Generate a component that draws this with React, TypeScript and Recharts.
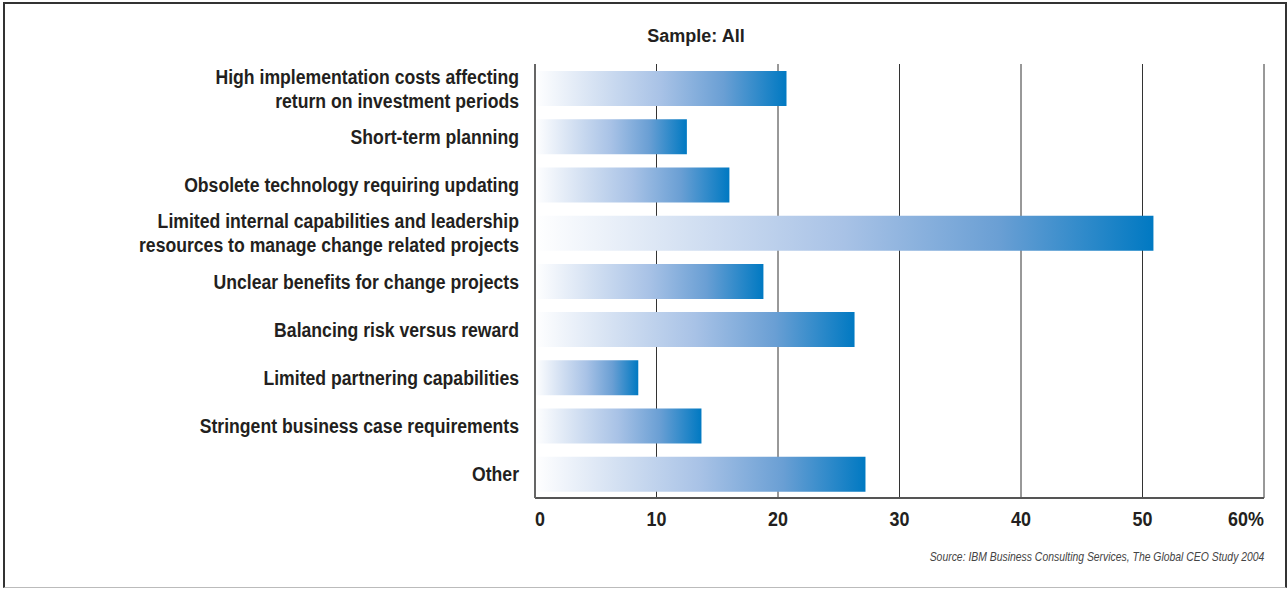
import React from "react";
import { Bar, BarChart, CartesianGrid, XAxis, YAxis } from "recharts";

// Obstacles to change, share of CEOs (%)
const categories = [
  "High implementation costs affecting|return on investment periods",
  "Short-term planning",
  "Obsolete technology requiring updating",
  "Limited internal capabilities and leadership|resources to manage change related projects",
  "Unclear benefits for change projects",
  "Balancing risk versus reward",
  "Limited partnering capabilities",
  "Stringent business case requirements",
  "Other",
];
const shares = [20.7, 12.5, 16.0, 50.9, 18.8, 26.3, 8.5, 13.7, 27.2];
const xTicks = [0, 10, 20, 30, 40, 50, 60];

const data = categories.map((name, i) => ({ name, value: shares[i] }));

// Arial-metric font squeezed horizontally to get a condensed look
const FONT = "'Liberation Sans', Arial, sans-serif";
const INK = "#231f20";

function CategoryTick(props: any) {
  const { x, y, payload } = props;
  const lines = String(payload.value).split("|");
  const lh = 24;
  const y0 = y - ((lines.length - 1) * lh) / 2 + 7.5;
  return (
    <text
      transform={`translate(${x} ${y0}) scale(0.84 1)`}
      textAnchor="end"
      fontFamily={FONT}
      fontWeight="bold"
      fontSize={21}
      fill={INK}
    >
      {lines.map((l, i) => (
        <tspan key={i} x={0} y={i * lh}>
          {l}
        </tspan>
      ))}
    </text>
  );
}

function ValueTick(props: any) {
  const { x, y, payload, index } = props;
  const last = index === xTicks.length - 1;
  const anchor = index === 0 ? "start" : last ? "end" : "middle";
  return (
    <text
      transform={`translate(${x} ${y + 20}) scale(0.92 1)`}
      textAnchor={anchor}
      fontFamily={FONT}
      fontWeight="bold"
      fontSize={19.5}
      fill={INK}
    >
      {last ? `${payload.value}%` : payload.value}
    </text>
  );
}

export default function App() {
  return (
    <div
      style={{
        position: "absolute",
        left: 0,
        top: 0,
        width: 1287,
        height: 590,
        background: "#fff",
        fontFamily: FONT,
      }}
    >
      <div
        style={{
          position: "absolute",
          left: 3,
          top: 2,
          width: 1280,
          height: 583,
          borderLeft: "2px solid #333",
          borderTop: "2px solid #333",
          borderRight: "2px solid #333",
          borderBottom: "1px solid #bbb",
        }}
      />
      <div
        style={{
          position: "absolute",
          left: 596,
          width: 200,
          top: 26,
          textAlign: "center",
          fontWeight: "bold",
          fontSize: 18,
          lineHeight: "21px",
          color: INK,
        }}
      >
        Sample: All
      </div>
      <div style={{ position: "absolute", left: 0, top: 0 }}>
        <BarChart
          width={1287}
          height={590}
          layout="vertical"
          data={data}
          margin={{ top: 64, right: 23, bottom: 0, left: 0 }}
        >
          <defs>
            <linearGradient id="barFade" x1="0" y1="0" x2="1" y2="0">
              <stop offset="0%" stopColor="#ffffff" />
              <stop offset="25%" stopColor="#d3e0f2" />
              <stop offset="50%" stopColor="#a8c2e6" />
              <stop offset="75%" stopColor="#6a9fd4" />
              <stop offset="100%" stopColor="#0079c2" />
            </linearGradient>
          </defs>
          <CartesianGrid horizontal={false} vertical stroke="#333" strokeWidth={1} />
          <XAxis
            type="number"
            dataKey="value"
            domain={[0, 60]}
            ticks={xTicks}
            interval={0}
            tick={<ValueTick />}
            tickLine={false}
            axisLine={{ stroke: "#555", strokeWidth: 2 }}
            height={92}
          />
          <XAxis
            xAxisId="top"
            orientation="top"
            type="number"
            domain={[0, 60]}
            tick={false}
            tickLine={false}
            axisLine={{ stroke: "#999", strokeWidth: 2 }}
            height={0}
          />
          <YAxis
            type="category"
            dataKey="name"
            width={535}
            interval={0}
            tick={<CategoryTick />}
            tickLine={false}
            tickMargin={10}
            axisLine={{ stroke: "#666", strokeWidth: 2 }}
          />
          <Bar dataKey="value" barSize={35} fill="url(#barFade)" isAnimationActive={false} />
        </BarChart>
      </div>
      <div
        style={{
          position: "absolute",
          right: 1287 - 1264,
          top: 549,
          fontStyle: "italic",
          fontSize: 13,
          lineHeight: "15px",
          color: "#444",
          whiteSpace: "nowrap",
          transform: "scaleX(0.8)",
          transformOrigin: "right center",
        }}
      >
        Source: IBM Business Consulting Services, The Global CEO Study 2004
      </div>
    </div>
  );
}
